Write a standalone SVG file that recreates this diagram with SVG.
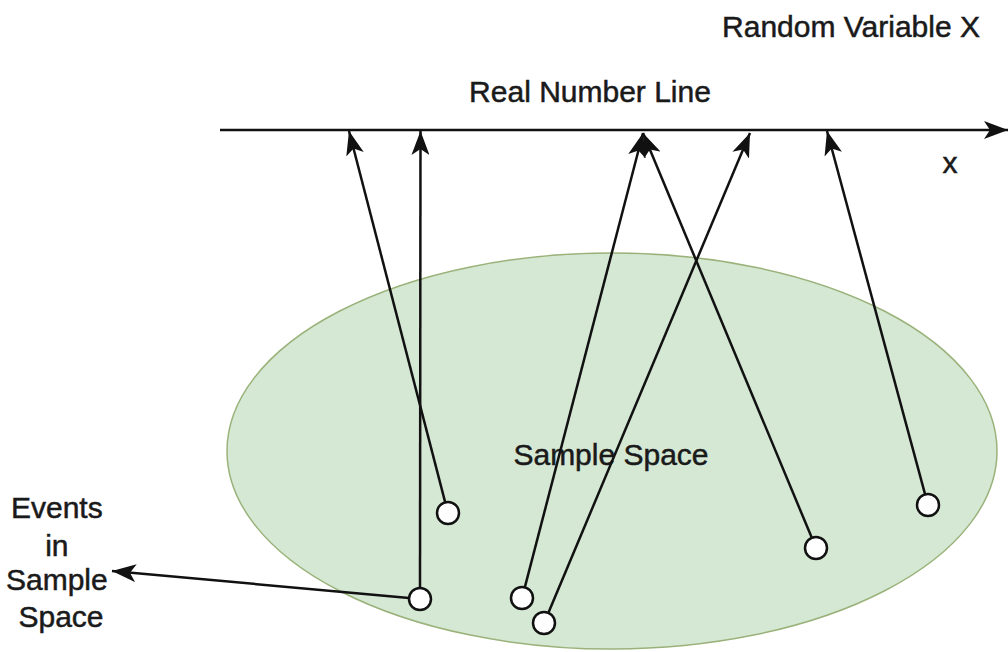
<svg xmlns="http://www.w3.org/2000/svg" width="1008" height="652" viewBox="0 0 1008 652">
  <style>
    .lbl { font-family: "Liberation Sans", Arial, Helvetica, sans-serif; font-size: 30px; fill: #1a1a1a; stroke: #1a1a1a; stroke-width: 0.5; }
    .conn { stroke: #111; stroke-width: 2.5; fill: none; marker-end: url(#arr); }
    .evt { fill: #ffffff; stroke: #111; stroke-width: 2.5; }
  </style>
  <defs>
    <marker id="arr" viewBox="0 0 24 18" refX="24" refY="9" markerWidth="24" markerHeight="18" markerUnits="userSpaceOnUse" orient="auto">
      <path d="M0,0 L24,9 L0,18 L6,9 Z" fill="#111"/>
    </marker>
  </defs>
  <rect width="1008" height="652" fill="#ffffff"/>

  <g id="sample-space">
    <ellipse cx="612" cy="451" rx="385" ry="198" fill="#d5e8d4" stroke="#9ab27a" stroke-width="1.5"/>
    <text class="lbl" x="611" y="465" text-anchor="middle">Sample Space</text>
  </g>

  <g id="title">
    <text class="lbl" x="851" y="37" text-anchor="middle">Random Variable X</text>
  </g>
  <g id="real-line-label">
    <text class="lbl" x="590" y="102" text-anchor="middle">Real Number Line</text>
  </g>
  <g id="x-label">
    <text class="lbl" x="950" y="173" text-anchor="middle">x</text>
  </g>
  <g id="events-label">
    <text class="lbl" text-anchor="middle">
      <tspan x="61" y="518">Events</tspan>
      <tspan x="61" y="556">in</tspan>
      <tspan x="61" y="590">Sample</tspan>
      <tspan x="61" y="627">Space</tspan>
    </text>
  </g>

  <g id="connectors">
    <line class="conn" x1="220" y1="130" x2="1008" y2="130"/>
    <line class="conn" x1="445.2" y1="502.4" x2="349" y2="131"/>
    <line class="conn" x1="420" y1="588" x2="420.5" y2="131"/>
    <line class="conn" x1="524.8" y1="587.4" x2="643" y2="133"/>
    <line class="conn" x1="548.3" y1="612.9" x2="750" y2="133"/>
    <line class="conn" x1="811.8" y1="537.8" x2="643" y2="133"/>
    <line class="conn" x1="925.1" y1="494.4" x2="827" y2="131"/>
    <line class="conn" x1="409" y1="598" x2="112" y2="571"/>
  </g>

  <g id="event-1"><circle class="evt" cx="448" cy="513" r="11"/></g>
  <g id="event-2"><circle class="evt" cx="420" cy="599" r="11"/></g>
  <g id="event-3"><circle class="evt" cx="522" cy="598" r="11"/></g>
  <g id="event-4"><circle class="evt" cx="544" cy="623" r="11"/></g>
  <g id="event-5"><circle class="evt" cx="816" cy="548" r="11"/></g>
  <g id="event-6"><circle class="evt" cx="928" cy="505" r="11"/></g>
</svg>
